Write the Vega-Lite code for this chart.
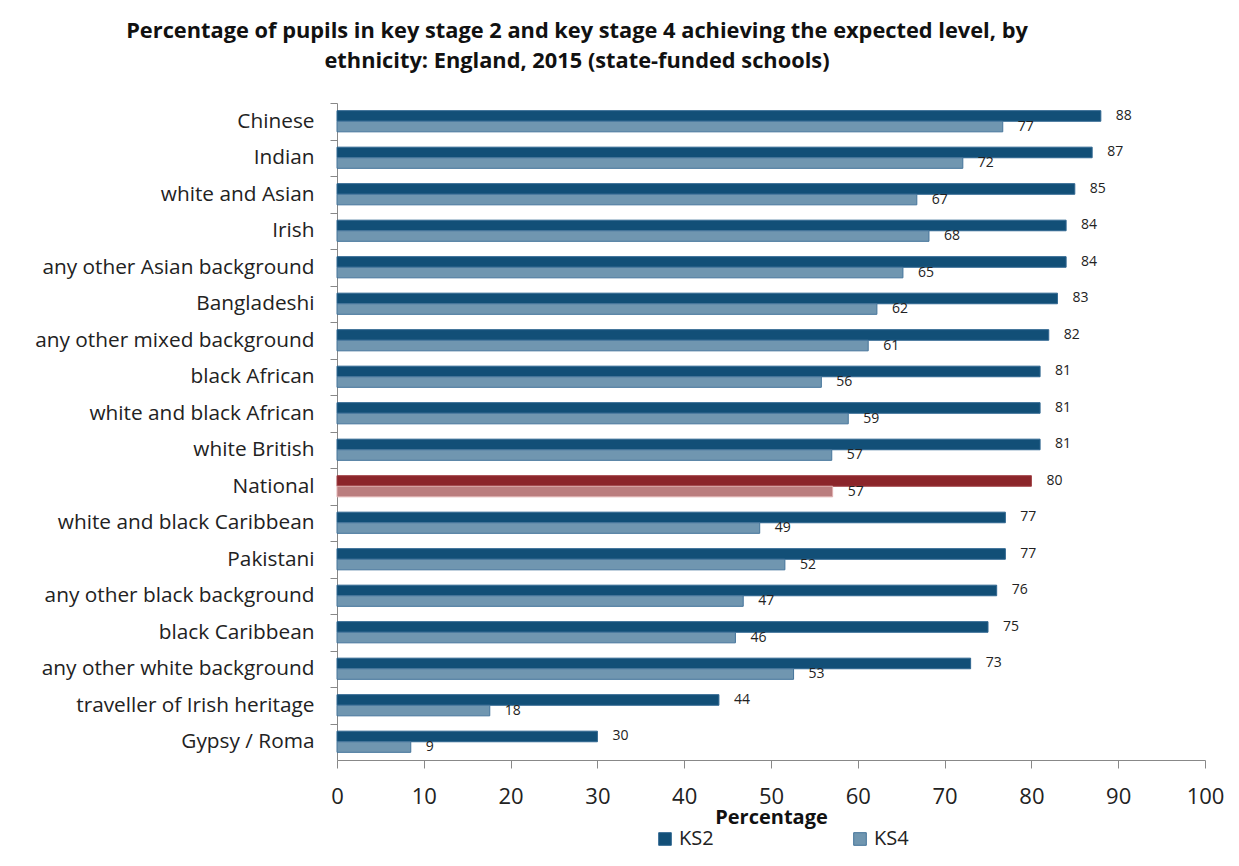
{
  "$schema": "https://vega.github.io/schema/vega-lite/v6.json",
  "width": 868,
  "height": 657,
  "autosize": {"type": "none"},
  "padding": {"left": 337, "top": 103, "right": 34, "bottom": 106},
  "background": "white",
  "config": {"view": {"stroke": null}},
  "title": {
    "text": ["Percentage of pupils in key stage 2 and  key stage 4 achieving the expected level, by", "ethnicity: England, 2015 (state-funded schools)"],
    "font": "Open Sans",
    "fontSize": 21.8,
    "fontWeight": "bold",
    "color": "#111",
    "anchor": "middle",
    "dx": -194,
    "offset": 30,
    "lineHeight": 30
  },
  "data": {
    "values": [
      {"ethnicity": "Chinese", "stage": "KS2", "series": "KS2", "value": 88},
      {"ethnicity": "Chinese", "stage": "KS4", "series": "KS4", "value": 76.7},
      {"ethnicity": "Indian", "stage": "KS2", "series": "KS2", "value": 87},
      {"ethnicity": "Indian", "stage": "KS4", "series": "KS4", "value": 72.1},
      {"ethnicity": "white and Asian", "stage": "KS2", "series": "KS2", "value": 85},
      {"ethnicity": "white and Asian", "stage": "KS4", "series": "KS4", "value": 66.8},
      {"ethnicity": "Irish", "stage": "KS2", "series": "KS2", "value": 84},
      {"ethnicity": "Irish", "stage": "KS4", "series": "KS4", "value": 68.2},
      {"ethnicity": "any other Asian background", "stage": "KS2", "series": "KS2", "value": 84},
      {"ethnicity": "any other Asian background", "stage": "KS4", "series": "KS4", "value": 65.2},
      {"ethnicity": "Bangladeshi", "stage": "KS2", "series": "KS2", "value": 83},
      {"ethnicity": "Bangladeshi", "stage": "KS4", "series": "KS4", "value": 62.2},
      {"ethnicity": "any other mixed background", "stage": "KS2", "series": "KS2", "value": 82},
      {"ethnicity": "any other mixed background", "stage": "KS4", "series": "KS4", "value": 61.2},
      {"ethnicity": "black African", "stage": "KS2", "series": "KS2", "value": 81},
      {"ethnicity": "black African", "stage": "KS4", "series": "KS4", "value": 55.8},
      {"ethnicity": "white and black African", "stage": "KS2", "series": "KS2", "value": 81},
      {"ethnicity": "white and black African", "stage": "KS4", "series": "KS4", "value": 58.9},
      {"ethnicity": "white British", "stage": "KS2", "series": "KS2", "value": 81},
      {"ethnicity": "white British", "stage": "KS4", "series": "KS4", "value": 57.0},
      {"ethnicity": "National", "stage": "KS2", "series": "National KS2", "value": 80},
      {"ethnicity": "National", "stage": "KS4", "series": "National KS4", "value": 57.1},
      {"ethnicity": "white and black Caribbean", "stage": "KS2", "series": "KS2", "value": 77},
      {"ethnicity": "white and black Caribbean", "stage": "KS4", "series": "KS4", "value": 48.7},
      {"ethnicity": "Pakistani", "stage": "KS2", "series": "KS2", "value": 77},
      {"ethnicity": "Pakistani", "stage": "KS4", "series": "KS4", "value": 51.6},
      {"ethnicity": "any other black background", "stage": "KS2", "series": "KS2", "value": 76},
      {"ethnicity": "any other black background", "stage": "KS4", "series": "KS4", "value": 46.8},
      {"ethnicity": "black Caribbean", "stage": "KS2", "series": "KS2", "value": 75},
      {"ethnicity": "black Caribbean", "stage": "KS4", "series": "KS4", "value": 45.9},
      {"ethnicity": "any other white background", "stage": "KS2", "series": "KS2", "value": 73},
      {"ethnicity": "any other white background", "stage": "KS4", "series": "KS4", "value": 52.6},
      {"ethnicity": "traveller of Irish heritage", "stage": "KS2", "series": "KS2", "value": 44},
      {"ethnicity": "traveller of Irish heritage", "stage": "KS4", "series": "KS4", "value": 17.6},
      {"ethnicity": "Gypsy / Roma", "stage": "KS2", "series": "KS2", "value": 30},
      {"ethnicity": "Gypsy / Roma", "stage": "KS4", "series": "KS4", "value": 8.5}
    ]
  },
  "encoding": {
    "y": {
      "field": "ethnicity",
      "type": "nominal",
      "sort": null,
      "scale": {"paddingInner": 0.42, "paddingOuter": 0.21},
      "axis": {
        "title": null,
        "labelFont": "Open Sans",
        "labelFontSize": 20.8,
        "labelColor": "#222",
        "labelPadding": 16,
        "tickSize": 7,
        "tickColor": "#888",
        "domainColor": "#888",
        "tickOffset": -18.25,
        "labelOffset": 18.25,
        "labelLimit": 400
      }
    },
    "yOffset": {"field": "stage", "type": "nominal", "sort": ["KS2", "KS4"], "scale": {"paddingInner": 0, "paddingOuter": 0}},
    "x": {
      "field": "value",
      "type": "quantitative",
      "scale": {"domain": [0, 100], "nice": false},
      "axis": {
        "title": "Percentage",
        "titleFont": "Open Sans",
        "titleFontSize": 20,
        "titleFontWeight": "bold",
        "titleColor": "#111",
        "titlePadding": 0,
        "values": [0, 10, 20, 30, 40, 50, 60, 70, 80, 90, 100],
        "labelFlush": false,
        "labelFont": "Open Sans",
        "labelFontSize": 22,
        "labelColor": "#222",
        "labelPadding": 18,
        "tickSize": 8,
        "tickColor": "#888",
        "domainColor": "#888",
        "grid": false
      }
    }
  },
  "layer": [
    {
      "mark": {"type": "bar", "strokeWidth": 1},
      "encoding": {
        "color": {
          "field": "series",
          "type": "nominal",
          "scale": {"domain": ["KS2", "KS4", "National KS2", "National KS4"], "range": ["#124F77", "#7096B0", "#8B252A", "#BA7D7E"]},
          "legend": {
            "values": ["KS2", "KS4"],
            "title": null,
            "orient": "none",
            "legendX": 318,
            "legendY": 726,
            "direction": "horizontal",
            "symbolType": "square",
            "symbolSize": 160,
            "symbolStrokeWidth": 1,
            "labelFont": "Open Sans",
            "labelFontSize": 20,
            "labelColor": "#222",
            "labelOffset": 4,
            "columnPadding": 136
          }
        },
        "stroke": {
          "field": "series",
          "type": "nominal",
          "scale": {"domain": ["KS2", "KS4", "National KS2", "National KS4"], "range": ["#2F6690", "#44749A", "#A04045", "#E0B0B0"]},
          "legend": null
        }
      }
    },
    {
      "mark": {"type": "text", "align": "left", "dx": 15, "font": "Open Sans", "fontSize": 14, "color": "#222"},
      "encoding": {
        "text": {"field": "value", "type": "quantitative", "format": ".0f"}
      }
    }
  ]
}
